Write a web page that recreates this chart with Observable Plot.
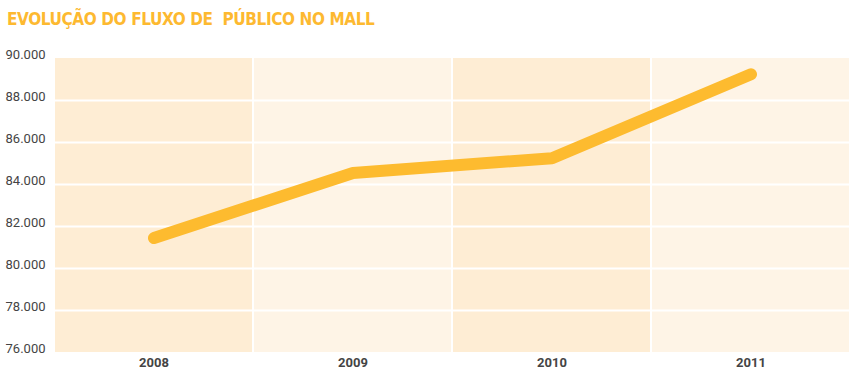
<!DOCTYPE html>
<html><head><meta charset="utf-8">
<script src="https://cdn.jsdelivr.net/npm/d3@7"></script>
<script src="https://cdn.jsdelivr.net/npm/@observablehq/plot@0.6"></script>
<style>
body{margin:0;background:#fff;}
#title{height:36px;box-sizing:border-box;padding:8px 0 0 7px;font-family:"DejaVu Sans Condensed","DejaVu Sans";font-weight:bold;font-size:17px;letter-spacing:-0.4px;color:#fdb930;white-space:pre;line-height:22px;}
</style></head>
<body>
<div id="title">EVOLUÇÃO DO FLUXO DE  PÚBLICO NO MALL</div>
<div id="chart"></div>
<script>
const years = ["2008", "2009", "2010", "2011"];
const visitors = [81450, 84550, 85250, 89250];
const yTicks = [76000, 78000, 80000, 82000, 84000, 86000, 88000, 90000];
const bandColors = ["#feedd4", "#fef4e6", "#feedd4", "#fef4e6"];

const data = years.map((y, i) => ({year: y, value: visitors[i], band: bandColors[i]}));
const fmt = n => d3.format(",")(n).replace(/,/g, ".");

const chart = Plot.plot({
  width: 860,
  height: 342,
  marginLeft: 53,
  marginRight: 9,
  marginTop: 22,
  marginBottom: 26,
  style: {fontFamily: "Roboto", background: "transparent"},
  x: {domain: years, padding: 0, label: null},
  y: {domain: [76000, 90000], label: null},
  marks: [
    Plot.rectY(data, {x: "year", y1: 76000, y2: 90000, fill: "band", insetLeft: 1, insetRight: 1}),
    Plot.ruleY(yTicks.slice(1, -1), {stroke: "#fff", strokeWidth: 2}),
    Plot.axisY({ticks: yTicks, tickFormat: fmt, tickSize: 0, tickPadding: 8, dy: -4, fontSize: 13, fill: "#444", label: null}),
    Plot.axisX({tickSize: 0, tickPadding: 5, fontSize: 13, fontWeight: "bold", fill: "#444", label: null}),
    Plot.line(data, {x: "year", y: "value", stroke: "#fdbb2f", strokeWidth: 12, strokeLinecap: "round", strokeLinejoin: "round"})
  ]
});
document.getElementById("chart").appendChild(chart);
</script>
</body></html>
